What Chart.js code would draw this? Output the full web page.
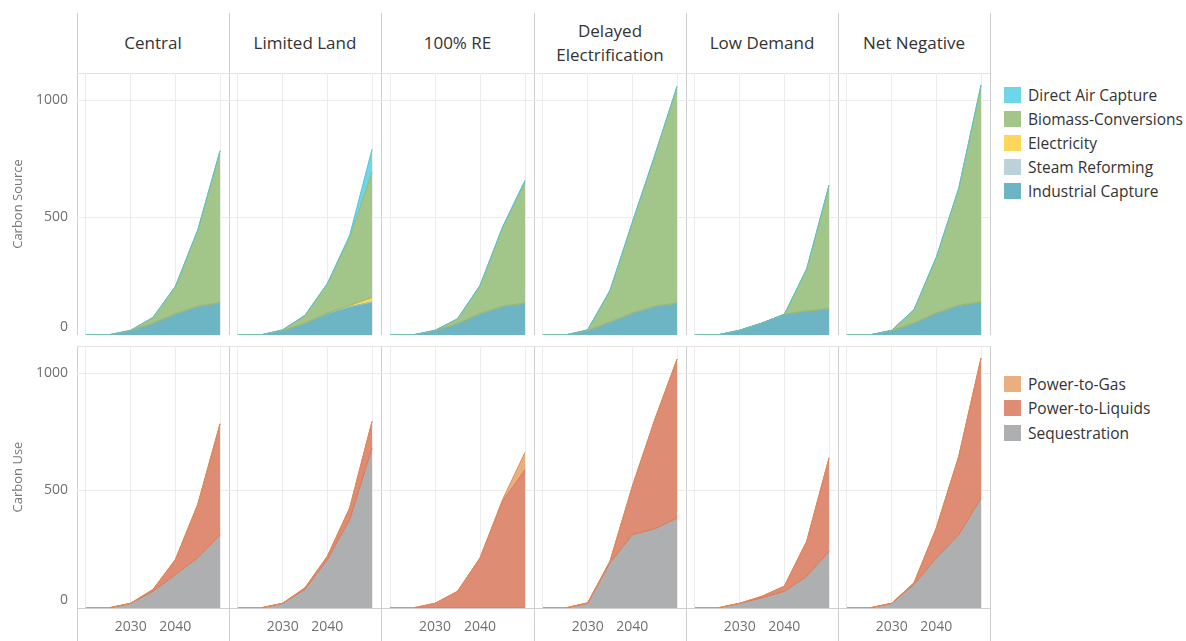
<!DOCTYPE html>
<html>
<head>
<meta charset="utf-8">
<script src="https://cdn.jsdelivr.net/npm/chart.js@4.4.1/dist/chart.umd.min.js"></script>
<style>
  body { margin: 0; background: #fff; font-family: "Open Sans", sans-serif; }
  #page { position: relative; width: 1186px; height: 641px; overflow: hidden; }
  .box { position: absolute; }
  .sep { position: absolute; width: 1px; background: #cfcfcf; }
  .hline { position: absolute; height: 1px; background: #e3e3e3; }
  .head { position: absolute; top: 13px; height: 60px; display: flex; align-items: center; justify-content: center; text-align: center; font-size: 17px; line-height: 24px; color: #333; }
  .legend { position: absolute; left: 1004px; }
  .item { position: relative; height: 24.2px; font-size: 15.5px; color: #333; }
  .sw { position: absolute; left: 0; top: 4px; width: 17px; height: 16px; }
  .lbl { position: absolute; left: 24px; top: 0; line-height: 24px; white-space: nowrap; }
</style>
</head>
<body>
<div id="page"></div>
<script>
const years = [2020, 2025, 2030, 2035, 2040, 2045, 2050];
const scenarios = ['Central', 'Limited Land', '100% RE', 'Delayed Electrification', 'Low Demand', 'Net Negative'];
const yTicks = [0, 500, 1000];
const xTicks = [2020, 2030, 2040, 2050];
const xLabels = [2030, 2040];

// carbon source, one row per scenario
const industrialCapture = [
    [0, 0, 18, 50, 90, 122, 138],
    [0, 0, 18, 50, 92, 120, 140],
    [0, 0, 18, 48, 91, 122, 136],
    [0, 0, 18, 55, 93, 122, 136],
    [0, 0, 20, 51, 88, 102, 112],
    [0, 0, 18, 51, 93, 126, 140]
];
const steamReforming = [
    [0, 0, 0, 0, 0, 0, 0],
    [0, 0, 0, 0, 0, 0, 0],
    [0, 0, 0, 0, 0, 0, 0],
    [0, 0, 0, 0, 0, 0, 0],
    [0, 0, 0, 0, 0, 0, 0],
    [0, 0, 0, 0, 0, 0, 0]
];
const electricity = [
    [0, 0, 0, 0, 0, 0, 0],
    [0, 0, 0, 0, 2, 6, 20],
    [0, 0, 0, 0, 0, 0, 0],
    [0, 0, 0, 0, 0, 0, 0],
    [0, 0, 0, 0, 0, 0, 0],
    [0, 0, 0, 0, 0, 0, 0]
];
const biomassConversions = [
    [0, 0, 2, 25, 117, 324, 646],
    [0, 0, 4, 34, 125, 289, 534],
    [0, 0, 2, 21, 120, 335, 513],
    [0, 0, 4, 135, 387, 642, 922],
    [0, 0, 0, 0, 0, 180, 526],
    [0, 0, 2, 57, 239, 498, 924]
];
const directAirCapture = [
    [0, 0, 0, 0, 0, 0, 0],
    [0, 0, 0, 0, 0, 10, 97],
    [0, 0, 0, 0, 0, 3, 10],
    [0, 0, 0, 0, 0, 0, 0],
    [0, 0, 0, 0, 0, 0, 0],
    [0, 0, 0, 0, 0, 0, 0]
];

// carbon use, one row per scenario
const sequestration = [
    [0, 0, 20, 71, 142, 213, 312],
    [0, 0, 20, 79, 206, 376, 681],
    [0, 0, 0, 0, 0, 0, 0],
    [0, 0, 20, 192, 312, 337, 383],
    [0, 0, 20, 43, 71, 135, 241],
    [0, 0, 20, 100, 213, 312, 468]
];
const powerToLiquids = [
    [0, 0, 0, 8, 64, 227, 472],
    [0, 0, 0, 7, 14, 50, 113],
    [0, 0, 20, 71, 213, 454, 589],
    [0, 0, 2, 7, 206, 464, 676],
    [0, 0, 0, 7, 22, 149, 398],
    [0, 0, 0, 7, 128, 333, 596]
];
const powerToGas = [
    [0, 0, 0, 0, 0, 0, 0],
    [0, 0, 0, 0, 0, 0, 0],
    [0, 0, 0, 0, 0, 7, 73],
    [0, 0, 0, 0, 0, 0, 0],
    [0, 0, 0, 0, 0, 0, 0],
    [0, 0, 0, 0, 0, 0, 0]
];

// layers listed top of stack first
const sourceLayers = [
    { label: 'Direct Air Capture', data: directAirCapture, fill: '#70d5e9', line: '#55c2d4' },
    { label: 'Biomass-Conversions', data: biomassConversions, fill: '#a2c68a', line: '#8fbb6f' },
    { label: 'Electricity', data: electricity, fill: '#ffd65c', line: '#9fb657' },
    { label: 'Steam Reforming', data: steamReforming, fill: '#bcd2da', line: '#a9c2cb' },
    { label: 'Industrial Capture', data: industrialCapture, fill: '#6db5c4', line: '#5aaabb' }
];
const useLayers = [
    { label: 'Power-to-Gas', data: powerToGas, fill: '#ebae7f', line: '#e08a55' },
    { label: 'Power-to-Liquids', data: powerToLiquids, fill: '#de8c74', line: '#d9774f' },
    { label: 'Sequestration', data: sequestration, fill: '#aeafb1', line: '#d9774f' }
];

const colEdges = [77, 229, 381, 534, 686, 838, 990];
const page = document.getElementById('page');
Chart.defaults.font.family = '"Open Sans", sans-serif';

const addDiv = (cls, css, text) => {
    const d = document.createElement('div');
    d.className = cls;
    Object.assign(d.style, css);
    if (text) d.textContent = text;
    page.appendChild(d);
    return d;
};

// frame lines
colEdges.forEach((x) => {
    addDiv('sep', { left: x + 'px', top: '13px', height: '322px' });
    addDiv('sep', { left: x + 'px', top: '346px', height: '295px' });
});
addDiv('hline', { left: '77px', top: '73px', width: '913px' });
addDiv('hline', { left: '77px', top: '346px', width: '913px' });

scenarios.forEach((name, c) => {
    const h = addDiv('head', { left: colEdges[c] + 'px', width: (colEdges[c + 1] - colEdges[c]) + 'px' });
    h.textContent = name;
    if (name === 'Delayed Electrification') h.innerHTML = 'Delayed<br>Electrification';
});

const makePanel = (row, col) => {
    const layers = row === 0 ? sourceLayers : useLayers;
    const left = col === 0 ? 0 : colEdges[col];
    const width = colEdges[col + 1] - left;
    const top = row === 0 ? 73 : 346;
    const height = row === 0 ? 262 : 295;
    const holder = addDiv('box', { left: left + 'px', top: top + 'px', width: width + 'px', height: height + 'px' });
    const canvas = document.createElement('canvas');
    canvas.width = width;
    canvas.height = height;
    holder.appendChild(canvas);

    const datasets = layers.map((layer, k) => ({
        label: layer.label,
        data: years.map((yr, i) => {
            let sum = 0;
            for (let j = k; j < layers.length; j++) sum += layers[j].data[col][i];
            return { x: yr, y: sum };
        }),
        backgroundColor: layer.fill,
        borderColor: layer.line,
        borderWidth: 1,
        fill: k === layers.length - 1 ? 'origin' : '+1',
        pointRadius: 0,
        tension: 0
    }));

    new Chart(canvas, {
        type: 'line',
        data: { datasets: datasets },
        options: {
            responsive: false,
            animation: false,
            layout: { padding: 0, autoPadding: false },
            plugins: {
                legend: { display: false },
                tooltip: { enabled: false },
                filler: { drawTime: 'beforeDatasetsDraw' }
            },
            scales: {
                x: {
                    type: 'linear',
                    min: 2018,
                    max: 2052,
                    afterBuildTicks: (sc) => { sc.ticks = xTicks.map(v => ({ value: v })); },
                    afterFit: (sc) => { sc.height = row === 1 ? 33 : 0; sc.paddingLeft = 0; sc.paddingRight = 0; },
                    grid: { color: '#ececec', drawTicks: false },
                    border: { display: true, color: row === 1 ? '#cfcfcf' : '#e3e3e3' },
                    ticks: {
                        display: row === 1,
                        autoSkip: false,
                        maxRotation: 0,
                        padding: 11,
                        color: '#707070',
                        font: { size: 14 },
                        callback: (v) => xLabels.includes(v) ? String(v) : ''
                    }
                },
                y: {
                    min: 0,
                    max: 1115,
                    afterBuildTicks: (sc) => { sc.ticks = yTicks.map(v => ({ value: v })); },
                    afterFit: (sc) => { sc.width = col === 0 ? 77 : 0; sc.paddingTop = 0; sc.paddingBottom = 0; },
                    grid: { color: '#ececec', drawTicks: false },
                    border: { display: false },
                    ticks: {
                        display: col === 0,
                        padding: 9,
                        color: '#707070',
                        font: { size: 14 },
                        callback: (v) => v === 0 ? ['0', ''] : String(v)
                    },
                    title: {
                        display: col === 0,
                        text: row === 0 ? 'Carbon Source' : 'Carbon Use',
                        color: '#777',
                        font: { size: 13 },
                        padding: { top: 10, bottom: 0 }
                    }
                }
            }
        }
    });
};

for (let r = 0; r < 2; r++) {
    for (let c = 0; c < scenarios.length; c++) makePanel(r, c);
}

// legends
const makeLegend = (layers, topPx) => {
    const lg = addDiv('legend', { top: topPx + 'px' });
    layers.forEach((layer) => {
        const it = document.createElement('div');
        it.className = 'item';
        const sw = document.createElement('div');
        sw.className = 'sw';
        sw.style.background = layer.fill;
        const tx = document.createElement('div');
        tx.className = 'lbl';
        tx.textContent = layer.label;
        it.appendChild(sw);
        it.appendChild(tx);
        lg.appendChild(it);
    });
};
makeLegend(sourceLayers, 82.6);
makeLegend(useLayers, 372.2);
</script>
</body>
</html>
